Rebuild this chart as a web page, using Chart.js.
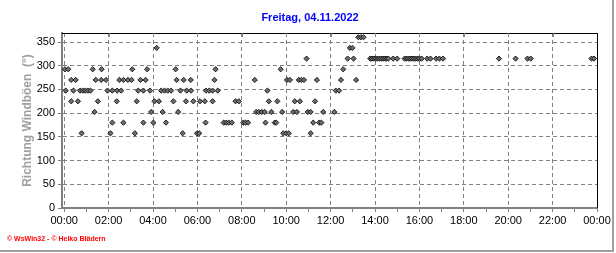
<!DOCTYPE html>
<html>
<head>
<meta charset="utf-8">
<script src="https://cdn.jsdelivr.net/npm/chart.js@4.4.0/dist/chart.umd.min.js"></script>
<style>
    html, body { margin: 0; padding: 0; background: #fff; }
    #wrap { position: relative; width: 616px; height: 253px; }
</style>
</head>
<body>
<div id="wrap"><canvas id="chart" width="616" height="253"></canvas></div>
<script>
// Wind gust direction, Friday 04.11.2022

const titleText = 'Freitag, 04.11.2022';
const yTitle = 'Richtung Windböen  (°)';
const footerText = '© WsWin32 - © Heiko Blädern';

// tick labels for the time axis (every 2 hours)
const hourLabels = ['00:00', '02:00', '04:00', '06:00', '08:00', '10:00', '12:00',
    '14:00', '16:00', '18:00', '20:00', '22:00', '00:00'];

// direction levels (degrees) and the times each one was measured
const directionLevels = [157.5, 180, 202.5, 225, 247.5, 270, 292.5, 315, 337.5, 360];

const times157 = ['00:47', '02:05', '03:11', '05:20', '05:59', '06:05', '09:52', '10:00', '10:07', '11:06'];
const times180 = ['02:10', '02:40', '03:34', '04:01', '04:35', '06:22', '07:11', '07:18', '07:25', '07:33',
    '08:04', '08:10', '08:17', '09:04', '09:29', '09:33', '11:13', '11:29', '11:35'];
const times202 = ['01:22', '03:55', '04:26', '05:08', '08:39', '08:46', '08:54', '09:02', '09:20', '09:49',
    '10:19', '10:29', '10:58', '11:06', '11:40', '12:10'];
const times225 = ['00:19', '00:37', '01:31', '02:22', '03:16', '04:04', '04:16', '04:55', '05:29', '05:49',
    '06:07', '06:20', '06:41', '07:43', '07:52', '09:13', '09:36', '10:23', '10:37', '11:18'];
const times247 = ['00:04', '00:25', '00:43', '00:50', '00:57', '01:04', '01:11', '01:57', '02:10', '02:23',
    '02:34', '03:20', '03:34', '03:52', '04:22', '04:31', '04:40', '04:49', '05:14', '05:31',
    '05:43', '06:23', '06:32', '06:41', '06:55', '09:09', '12:14', '12:23'];
const times270 = ['00:19', '00:31', '01:25', '01:40', '01:53', '02:29', '02:40', '02:52', '03:02', '03:26',
    '03:40', '05:04', '05:23', '05:42', '06:46', '08:35', '10:02', '10:10', '10:34', '10:41',
    '10:48', '11:23', '12:28', '13:09'];
const times292 = ['00:02', '00:11', '01:17', '01:41', '03:04', '03:44', '05:01', '06:49', '09:45', '12:34'];
const times315 = ['10:55', '12:46', '13:02', '13:47', '13:52', '13:57', '14:02', '14:07', '14:12', '14:17',
    '14:22', '14:27', '14:32', '14:36', '14:49', '15:00', '15:20', '15:25', '15:30', '15:35',
    '15:40', '15:45', '15:50', '15:55', '16:00', '16:06', '16:21', '16:30', '16:45', '16:54',
    '17:04', '19:35', '20:20', '20:52', '21:01', '23:45', '23:52'];
const times337 = ['04:10', '12:52', '12:59'];
const times360 = ['13:15', '13:22', '13:29'];

const timesByLevel = [times157, times180, times202, times225, times247, times270, times292, times315, times337, times360];

function toHours(hhmm) {
    const parts = hhmm.split(':');
    return parseInt(parts[0], 10) + parseInt(parts[1], 10) / 60;
}

// build scatter points
const points = [];
directionLevels.forEach((dir, i) => {
    timesByLevel[i].forEach(t => points.push({ x: toHours(t), y: dir }));
});

const gridGray = '#808080';

// title, frame and footer drawn around the plot
const framePlugin = {
    id: 'frame',
    beforeDraw(chart) {
        const ctx = chart.ctx;
        ctx.save();
        ctx.fillStyle = '#fff';
        ctx.fillRect(0, 0, chart.width, chart.height);
        ctx.restore();
    },
    afterDraw(chart) {
        const { ctx, chartArea: a } = chart;
        const xs = chart.scales.x;
        ctx.save();
        // black top/right border
        ctx.strokeStyle = '#000';
        ctx.lineWidth = 1;
        ctx.beginPath();
        ctx.moveTo(a.left, a.top + 0.5);
        ctx.lineTo(a.right + 0.5, a.top + 0.5);
        ctx.lineTo(a.right + 0.5, a.bottom);
        ctx.stroke();
        // small ticks under top border
        ctx.strokeStyle = gridGray;
        ctx.beginPath();
        for (let h = 2; h < 24; h += 2) {
            const px = Math.round(xs.getPixelForValue(h)) + 0.5;
            ctx.moveTo(px, a.top);
            ctx.lineTo(px, a.top + 4);
        }
        ctx.stroke();
        // outer gray frame
        ctx.strokeStyle = '#a0a0a0';
        ctx.lineWidth = 2;
        ctx.beginPath();
        ctx.moveTo(613, 0);
        ctx.lineTo(613, 251);
        ctx.lineTo(0, 251);
        ctx.stroke();
        // title
        ctx.font = 'bold 11px "Liberation Sans", Arial, sans-serif';
        ctx.fillStyle = '#0000ff';
        ctx.textAlign = 'center';
        ctx.textBaseline = 'middle';
        ctx.fillText(titleText, 310, 18);
        // footer
        ctx.font = 'bold 7px "Liberation Sans", Arial, sans-serif';
        ctx.fillStyle = '#ff0000';
        ctx.textAlign = 'left';
        ctx.fillText(footerText, 7, 239);
        ctx.restore();
    }
};

const ctx = document.getElementById('chart').getContext('2d');
new Chart(ctx, {
    type: 'scatter',
    data: {
        datasets: [{
            label: yTitle,
            data: points,
            pointStyle: 'rectRot',
            pointRadius: 2.6,
            pointBackgroundColor: '#6e6e6e',
            pointBorderColor: '#1e1e1e',
            pointBorderWidth: 1,
            clip: false
        }]
    },
    options: {
        responsive: false,
        animation: false,
        layout: { padding: { top: 33, right: 19, left: 0, bottom: 0 } },
        plugins: {
            legend: { display: false },
            tooltip: { enabled: false }
        },
        scales: {
            x: {
                type: 'linear',
                min: -0.1,
                max: 24,
                // one tick per hour, 00:00 to 24:00
                afterBuildTicks: scale => {
                    const ticks = [];
                    for (let h = 0; h <= 24; h++) ticks.push({ value: h });
                    scale.ticks = ticks;
                },
                afterFit: scale => { scale.height = 45; },
                ticks: {
                    autoSkip: false,
                    maxRotation: 0,
                    padding: 2,
                    color: '#000',
                    font: { family: '"Liberation Sans", Arial, sans-serif', size: 11 },
                    callback: v => (v % 2 === 0 ? hourLabels[v / 2] : '')
                },
                grid: {
                    color: c => (c.tick && c.tick.value % 2 === 0 ? gridGray : 'rgba(0,0,0,0)'),
                    tickColor: gridGray,
                    tickLength: 4,
                    lineWidth: 1
                },
                border: { color: gridGray, width: 2, dash: [4, 3] }
            },
            y: {
                min: 0,
                max: 369,
                // ticks every 25 degrees up to 350
                afterBuildTicks: scale => {
                    const ticks = [];
                    for (let v = 0; v <= 350; v += 25) ticks.push({ value: v });
                    scale.ticks = ticks;
                },
                afterFit: scale => { scale.width = 62; },
                title: {
                    display: true,
                    text: yTitle,
                    color: '#a0a0a0',
                    font: { family: '"Liberation Sans", Arial, sans-serif', size: 12, weight: 'bold' },
                    padding: { top: 20, bottom: 0 }
                },
                ticks: {
                    padding: 3,
                    color: '#000',
                    font: { family: '"Liberation Sans", Arial, sans-serif', size: 11 },
                    callback: v => (v % 50 === 0 ? String(v) : '')
                },
                grid: {
                    color: c => (c.tick && c.tick.value % 50 === 0 && c.tick.value > 0 ? gridGray : 'rgba(0,0,0,0)'),
                    tickColor: gridGray,
                    tickLength: 4,
                    lineWidth: 1
                },
                border: { color: gridGray, width: 2, dash: [4, 3] }
            }
        }
    },
    plugins: [framePlugin]
});
</script>
</body>
</html>
